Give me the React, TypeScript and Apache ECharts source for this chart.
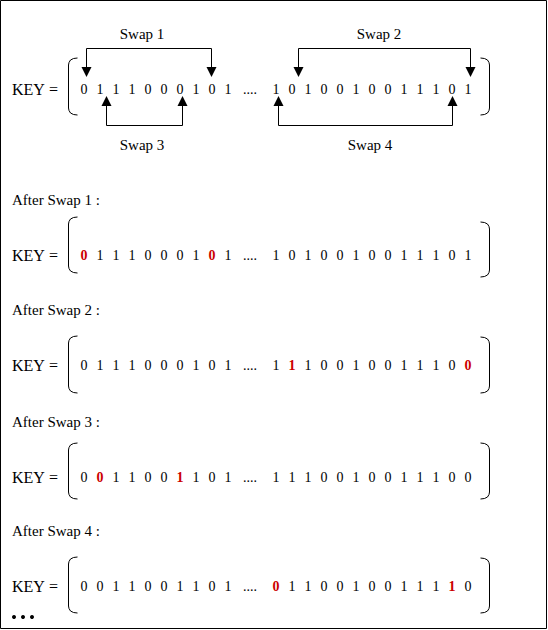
import { useEffect, useRef } from "react";
import * as echarts from "echarts";
import type { ECharts } from "echarts";

// key bits, left part (before "....") and right part
const KEY_LEFT = [0, 1, 1, 1, 0, 0, 0, 1, 0, 1];
const KEY_RIGHT = [1, 0, 1, 0, 0, 1, 0, 0, 1, 1, 1, 0, 1];

// swaps drawn on the original key: which part, and the two indices
const SWAP_LABELS = ["Swap 1", "Swap 2", "Swap 3", "Swap 4"];
const SWAP_PART = ["left", "right", "left", "right"];
const SWAP_PAIRS = [
    [0, 8],
    [1, 12],
    [1, 6],
    [0, 11],
];

// rows after each swap
const AFTER_TITLES = ["After Swap 1 :", "After Swap 2 :", "After Swap 3 :", "After Swap 4 :"];
const AFTER_LEFT = [
    [0, 1, 1, 1, 0, 0, 0, 1, 0, 1],
    [0, 1, 1, 1, 0, 0, 0, 1, 0, 1],
    [0, 0, 1, 1, 0, 0, 1, 1, 0, 1],
    [0, 0, 1, 1, 0, 0, 1, 1, 0, 1],
];
const AFTER_RIGHT = [
    [1, 0, 1, 0, 0, 1, 0, 0, 1, 1, 1, 0, 1],
    [1, 1, 1, 0, 0, 1, 0, 0, 1, 1, 1, 0, 0],
    [1, 1, 1, 0, 0, 1, 0, 0, 1, 1, 1, 0, 0],
    [0, 1, 1, 0, 0, 1, 0, 0, 1, 1, 1, 1, 0],
];

// layout
const FONT = '"Liberation Serif", "Times New Roman", serif';
const RED = "#cc0000";
const LEFT_X0 = 84;
const RIGHT_X0 = 276;
const STEP = 16;
const MAIN_Y = 89;
const AFTER_Y = [255, 365, 477, 586];
// bracket extents (top offset, bottom offset) per row: main row first
const LEFT_BRACKET = [[-31, 26], [-38, 18], [-29, 28], [-34, 22], [-29, 27]];
const RIGHT_BRACKET = [[-31, 26], [-33, 22], [-28, 28], [-34, 22], [-28, 27]];
const ARROW_DX = [
    [2, -1],
    [6, 2],
    [6, 2],
    [2, 0],
];
const SWAP_LABEL_X = [142, 379, 142, 370];

const bitX = (part: string, i: number) => (part === "left" ? LEFT_X0 : RIGHT_X0) + i * STEP;

function bracket(y: number, side: "left" | "right", ext: number[]) {
    const top = y + ext[0];
    const bot = y + ext[1];
    const vx = side === "left" ? 68.5 : 489.5;
    const s = side === "left" ? 1 : -1;
    const pts = [
        [vx + 9 * s, top],
        [vx + 5 * s, top + 0.5],
        [vx + 2 * s, top + 2],
        [vx + 0.5 * s, top + 4.5],
        [vx, top + 7],
        [vx, bot - 7],
        [vx + 0.5 * s, bot - 4.5],
        [vx + 2 * s, bot - 2],
        [vx + 5 * s, bot - 0.5],
        [vx + 9 * s, bot],
    ];
    return {
        type: "polyline",
        shape: { points: pts },
        style: { stroke: "#000", lineWidth: 1, fill: null },
        silent: true,
    };
}

function text(str: string, x: number, y: number, size: number, opts: any = {}) {
    return {
        type: "text",
        x,
        y,
        style: {
            text: str,
            fill: opts.fill ?? "#000",
            font: `${opts.bold ? "bold " : ""}${size}px ${FONT}`,
            align: opts.align ?? "left",
            verticalAlign: "middle",
        },
        silent: true,
    };
}

function keyRow(row: number, y: number, left: number[], right: number[], hiLeft: number[], hiRight: number[]) {
    const els: any[] = [];
    els.push(text("KEY", 12, y, 16));
    els.push(text("=", 49, y, 16));
    els.push(bracket(y, "left", LEFT_BRACKET[row]));
    els.push(bracket(y, "right", RIGHT_BRACKET[row]));
    left.forEach((b, i) => {
        const hi = hiLeft.includes(i);
        els.push(text(String(b), bitX("left", i), y, 14, { align: "center", fill: hi ? RED : "#000", bold: hi }));
    });
    els.push(text("....", 250, y, 14, { align: "center" }));
    right.forEach((b, i) => {
        const hi = hiRight.includes(i);
        els.push(text(String(b), bitX("right", i), y, 14, { align: "center", fill: hi ? RED : "#000", bold: hi }));
    });
    return els;
}

function swapArrow(k: number) {
    const part = SWAP_PART[k];
    const [i, j] = SWAP_PAIRS[k];
    const x1 = Math.round(bitX(part, i) + ARROW_DX[k][0]) + 0.5;
    const x2 = Math.round(bitX(part, j) + ARROW_DX[k][1]) + 0.5;
    // swaps 1 and 2 are drawn above the key, 3 and 4 below
    const above = k < 2;
    const lineY = above ? 48.5 : 125.5;
    const baseY = above ? 67 : 106;
    const tipY = above ? 77 : 96;
    const els: any[] = [];
    els.push({
        type: "polyline",
        shape: { points: [[x1, baseY], [x1, lineY], [x2, lineY], [x2, baseY]] },
        style: { stroke: "#000", lineWidth: 1, fill: null },
        silent: true,
    });
    [x1, x2].forEach((x) =>
        els.push({
            type: "polygon",
            shape: { points: [[x - 5, baseY], [x + 5, baseY], [x, tipY]] },
            style: { fill: "#000" },
            silent: true,
        })
    );
    els.push(text(SWAP_LABELS[k], SWAP_LABEL_X[k], above ? 34 : 145, 15, { align: "center" }));
    return els;
}

export default function App() {
    const chartRef = useRef<HTMLDivElement | null>(null);

    useEffect(() => {
        if (!chartRef.current) return;
        const chart: ECharts = echarts.init(chartRef.current, undefined, { renderer: "svg" });

        const elements: any[] = [];
        elements.push({
            type: "rect",
            shape: { x: 0.5, y: 0.5, width: 546, height: 628 },
            style: { fill: "#fff", stroke: "#000", lineWidth: 1 },
            silent: true,
        });

        // original key with the four swaps
        elements.push(...keyRow(0, MAIN_Y, KEY_LEFT, KEY_RIGHT, [], []));
        SWAP_LABELS.forEach((_, k) => elements.push(...swapArrow(k)));

        // the key after each swap, swapped bits in red
        AFTER_TITLES.forEach((title, k) => {
            const y = AFTER_Y[k];
            elements.push(text(title, 12, y - 55, 15));
            const part = SWAP_PART[k];
            const hi = SWAP_PAIRS[k];
            elements.push(
                ...keyRow(k + 1, y, AFTER_LEFT[k], AFTER_RIGHT[k], part === "left" ? hi : [], part === "right" ? hi : [])
            );
        });

        // trailing dots
        [14, 23, 32].forEach((cx) =>
            elements.push({ type: "circle", shape: { cx, cy: 617, r: 2 }, style: { fill: "#000" }, silent: true })
        );

        chart.setOption({
            animation: false,
            backgroundColor: "#fff",
            graphic: { elements },
        });

        return () => chart.dispose();
    }, []);

    return (
        <div
            ref={chartRef}
            style={{ position: "absolute", left: 0, top: 0, width: 548, height: 630 }}
        />
    );
}
